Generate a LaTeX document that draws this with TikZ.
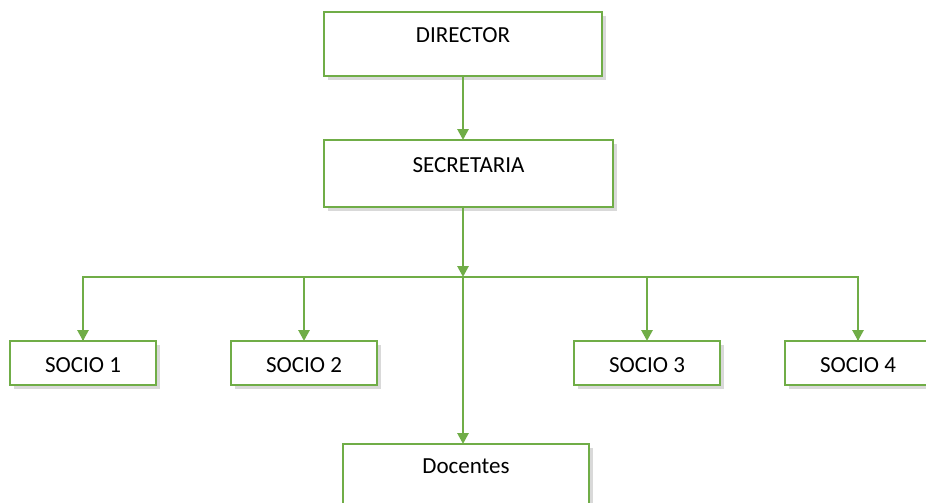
\documentclass[tikz,border=0pt]{standalone}
\usepackage{fontspec}
\setmainfont{Carlito}
\usepackage{tikz}
\usetikzlibrary{positioning,arrows.meta,shadows}
\definecolor{grn}{HTML}{70AD47}

\begin{document}
\begin{tikzpicture}[x=1pt, y=-1pt, line width=2.8pt, >={Triangle[width=11pt,length=11pt]},
    main/.style = {draw=grn, fill=white, inner sep=0pt, outer sep=0pt,
        font=\fontsize{23}{27}\selectfont,
        drop shadow={opacity=0.3, shadow xshift=4pt, shadow yshift=-4pt}},
    socio/.style = {main, minimum width=146pt, text height=31pt, text depth=13pt}]
    \useasboundingbox (0,0) rectangle (926,503);
    \node[main, minimum width=278pt, text height=31pt, text depth=33pt] (1) at (463,44) {DIRECTOR};
    \node[main, minimum width=289pt, text height=32pt, text depth=35pt] (2) [below=64pt of 1, xshift=5.5pt] {SECRETARIA};
    \node[socio] (3) at (83,363) {SOCIO 1};
    \node[socio] (4) [right=75pt of 3] {SOCIO 2};
    \node[socio] (5) [right=197pt of 4] {SOCIO 3};
    \node[socio] (6) [right=65pt of 5] {SOCIO 4};
    \node[main, minimum width=246pt, text height=29pt, text depth=40pt, anchor=north] (7) at (466,444) {Docentes};
    \coordinate (j) at (463,277);
    \draw[grn, ->] (1.south) -- (1.south |- 2.north);
    \draw[grn, ->] (j |- 2.south) -- (j);
    \draw[grn] (j) -| (3.north);
    \draw[grn] (j) -| (6.north);
    \draw[grn, ->] (j -| 3.north) -- (3.north);
    \draw[grn, ->] (j -| 4.north) -- (4.north);
    \draw[grn, ->] (j -| 5.north) -- (5.north);
    \draw[grn, ->] (j -| 6.north) -- (6.north);
    \draw[grn, ->] (j) -- (j |- 7.north);
\end{tikzpicture}
\end{document}
